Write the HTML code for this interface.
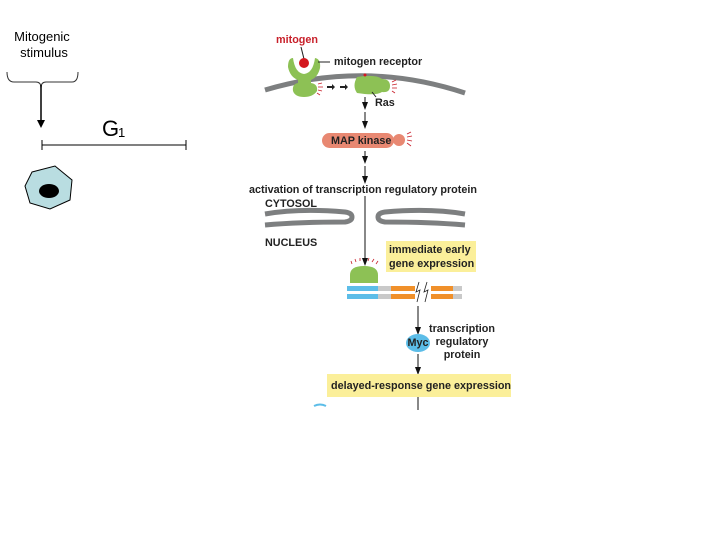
<!DOCTYPE html>
<html><head><meta charset="utf-8"><style>
html,body{margin:0;padding:0;background:#fff;width:720px;height:540px;overflow:hidden}
svg{display:block}
.b{font-family:"Liberation Sans",sans-serif;font-weight:bold;font-size:10.8px;fill:#222}
</style></head><body>
<svg width="720" height="540" viewBox="0 0 720 540" xmlns="http://www.w3.org/2000/svg">
<defs><marker id="ah" markerWidth="8" markerHeight="8" refX="4" refY="4" orient="auto" markerUnits="userSpaceOnUse"><path d="M0,1 L8,4 L0,7 Z" fill="#111"/></marker></defs>
<text x="42" y="41" font-family="Liberation Sans,sans-serif" font-size="13" text-anchor="middle">Mitogenic</text>
<text x="44" y="57" font-family="Liberation Sans,sans-serif" font-size="13" text-anchor="middle">stimulus</text>
<path d="M7,72 Q7,82 14,82 L36,82 Q41,82 41,88 Q41,82 46,82 L72,82 Q78,82 78,72" fill="none" stroke="#333" stroke-width="1"/>
<line x1="41" y1="85" x2="41" y2="122" stroke="#000" stroke-width="1.5"/>
<path d="M37,120 L41,128 L45,120 Z" fill="#000"/>
<text x="102" y="136" font-family="Liberation Sans,sans-serif" font-size="22">G</text>
<text x="118" y="137" font-family="Liberation Sans,sans-serif" font-size="13">1</text>
<line x1="42" y1="145" x2="186" y2="145" stroke="#000" stroke-width="1"/>
<line x1="42" y1="140" x2="42" y2="150" stroke="#000"/>
<line x1="186" y1="140" x2="186" y2="150" stroke="#000"/>
<path d="M32,172 L55,166 L72,180 L70,200 L50,209 L30,203 L25,186 Z" fill="#b9dde1" stroke="#000" stroke-width="1"/>
<ellipse cx="49" cy="191" rx="10" ry="7" fill="#000"/>
<path d="M265,90 Q365,60 465,93" fill="none" stroke="#7d7f80" stroke-width="5"/>
<text x="276" y="43" font-family="Liberation Sans,sans-serif" font-weight="bold" font-size="10.8" fill="#c8202a">mitogen</text>
<line x1="301" y1="47" x2="304" y2="59" stroke="#222"/>
<path d="M293,58 Q295,73 304,74 Q313,73 315,58 Q321,59 320,68 Q318,77 311,80 L311,83 Q318,84 317,91 Q313,97 304,97 Q295,97 293,91 Q292,84 298,83 L298,80 Q290,77 288,67 Q288,58 293,58 Z" fill="#8dc155"/>
<circle cx="304" cy="63" r="5" fill="#d4171e"/>
<line x1="318" y1="62" x2="330" y2="62" stroke="#222"/>
<text x="334" y="65" class="b">mitogen receptor</text>
<g stroke="#c8202a" stroke-width="0.8"><line x1="318" y1="84" x2="322" y2="83"/><line x1="318" y1="87" x2="323" y2="87"/><line x1="318" y1="90" x2="322" y2="91"/><line x1="317" y1="93" x2="320" y2="95"/></g>
<g fill="#222"><path d="M327,86 h5 v-2 l3,3 l-3,3 v-2 h-5z"/><path d="M340,86 h5 v-2 l3,3 l-3,3 v-2 h-5z"/></g>
<path d="M357,77 Q376,74 382,79 Q390,79 390,86 Q390,93 382,92 Q376,96 357,93 Q352,86 357,77 Z" fill="#8dc155"/>
<circle cx="365" cy="75" r="1.5" fill="#d4171e"/>
<g stroke="#c8202a" stroke-width="0.8"><line x1="392" y1="82" x2="396" y2="80"/><line x1="392" y1="85" x2="397" y2="84"/><line x1="392" y1="88" x2="397" y2="88"/><line x1="392" y1="91" x2="395" y2="93"/></g>
<line x1="372" y1="92" x2="376" y2="97" stroke="#222"/>
<text x="375" y="106" class="b">Ras</text>
<line x1="365" y1="97" x2="365" y2="106" stroke="#111" marker-end="url(#ah)"/>
<line x1="365" y1="112" x2="365" y2="125" stroke="#111" marker-end="url(#ah)"/>
<rect x="322" y="133" width="72" height="15" rx="7.5" fill="#e88872"/>
<circle cx="399" cy="140" r="6" fill="#e88872"/>
<text x="331" y="144" class="b" fill="#111">MAP kinase</text>
<g stroke="#c8202a" stroke-width="0.8"><line x1="407" y1="134" x2="411" y2="132"/><line x1="407" y1="137" x2="412" y2="136"/><line x1="407" y1="140" x2="412" y2="141"/><line x1="407" y1="143" x2="411" y2="146"/></g>
<line x1="365" y1="151" x2="365" y2="160" stroke="#111" marker-end="url(#ah)"/>
<line x1="365" y1="166" x2="365" y2="180" stroke="#111" marker-end="url(#ah)"/>
<text x="249" y="193" class="b">activation of transcription regulatory protein</text>
<text x="265" y="207" class="b">CYTOSOL</text>
<path d="M265,214 Q300,208 345,212 Q352,213 352,217 Q352,221 345,222 Q300,222 265,225" fill="none" stroke="#7d7f80" stroke-width="5"/>
<path d="M465,214 Q430,208 385,212 Q378,213 378,217 Q378,221 385,222 Q430,222 465,225" fill="none" stroke="#7d7f80" stroke-width="5"/>
<line x1="365" y1="196" x2="365" y2="262" stroke="#111" marker-end="url(#ah)"/>
<text x="265" y="246" class="b">NUCLEUS</text>
<rect x="386" y="241" width="90" height="31" fill="#fbef9a"/>
<text x="389" y="253" class="b">immediate early</text>
<text x="389" y="267" class="b">gene expression</text>
<path d="M350,283 L350,275 Q350,266 364,266 Q378,266 378,275 L378,283 Z" fill="#8dc155"/>
<g stroke="#c8202a" stroke-width="0.8"><line x1="352" y1="264" x2="351" y2="261"/><line x1="356" y1="262" x2="355" y2="259"/><line x1="360" y1="261" x2="360" y2="258"/><line x1="368" y1="261" x2="369" y2="258"/><line x1="372" y1="262" x2="374" y2="259"/><line x1="376" y1="264" x2="378" y2="261"/></g>
<g>
<rect x="347" y="286" width="115" height="5" fill="#c9c9c9"/><rect x="347" y="294" width="115" height="5" fill="#c9c9c9"/>
<rect x="347" y="286" width="31" height="5" fill="#5cbde8"/><rect x="347" y="294" width="31" height="5" fill="#5cbde8"/>
<rect x="391" y="286" width="24" height="5" fill="#f0902a"/><rect x="391" y="294" width="24" height="5" fill="#f0902a"/>
<rect x="431" y="286" width="22" height="5" fill="#f0902a"/><rect x="431" y="294" width="22" height="5" fill="#f0902a"/>
<rect x="415" y="284" width="16" height="17" fill="#fff"/>
<path d="M419,282 L416,292 L420,290 L417,302 M427,282 L424,292 L428,290 L425,302" fill="none" stroke="#222" stroke-width="0.8"/>
</g>
<line x1="418" y1="306" x2="418" y2="331" stroke="#111" marker-end="url(#ah)"/>
<ellipse cx="418" cy="343" rx="12" ry="9" fill="#5cbde8"/>
<text x="418" y="346" class="b" font-size="8.5" text-anchor="middle">Myc</text>
<text x="462" y="332" class="b" text-anchor="middle">transcription</text>
<text x="462" y="345" class="b" text-anchor="middle">regulatory</text>
<text x="462" y="358" class="b" text-anchor="middle">protein</text>
<line x1="418" y1="354" x2="418" y2="371" stroke="#111" marker-end="url(#ah)"/>
<rect x="327" y="374" width="184" height="23" fill="#fbef9a"/>
<text x="331" y="389" class="b">delayed-response gene expression</text>
<line x1="418" y1="397" x2="418" y2="410" stroke="#111"/>
<path d="M314,406 Q320,403 326,406" fill="none" stroke="#5cbde8" stroke-width="2"/>
</svg>
</body></html>
